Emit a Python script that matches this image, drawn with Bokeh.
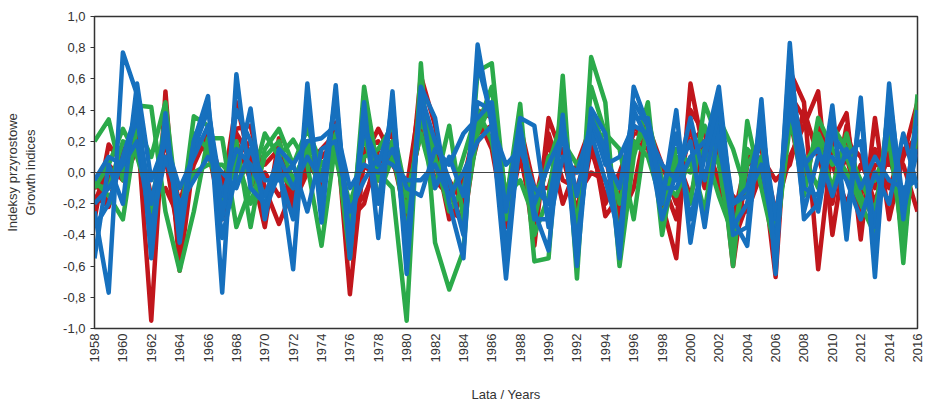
import numpy as np
from bokeh.plotting import figure
from bokeh.models import FixedTicker, CustomJSTickFormatter, Span, Range1d
from bokeh.embed import file_html
from bokeh.resources import INLINE

years = list(range(1958, 2017))

red_1 = [-0.30, 0.18, 0.05, 0.30, -0.95, 0.52, -0.63, 0.10, 0.28, -0.15,
         0.45, 0.05, -0.35, 0.22, -0.28, 0.10, -0.10, 0.32, -0.78, 0.10,
         0.28, 0.10, -0.30, 0.62, 0.30, -0.25, -0.30, 0.40, 0.35, -0.30,
         0.20, -0.47, 0.35, 0.10, -0.25, 0.25, -0.28, -0.15, 0.30, 0.20,
         -0.20, -0.55, 0.57, 0.10, 0.25, -0.60, 0.05, 0.10, -0.67, 0.65,
         0.45, -0.62, 0.20, 0.38, -0.43, 0.35, -0.30, 0.10, 0.45]
red_2 = [-0.15, -0.22, 0.15, 0.20, -0.30, 0.10, -0.45, 0.20, 0.20, -0.25,
         0.28, 0.30, -0.10, -0.33, -0.10, 0.05, 0.15, 0.25, -0.30, -0.20,
         0.15, 0.25, -0.20, 0.40, 0.20, -0.10, -0.35, 0.30, 0.20, -0.25,
         0.15, -0.20, 0.20, -0.20, 0.05, 0.30, 0.10, -0.30, -0.10, 0.35,
         -0.30, 0.05, 0.20, 0.28, 0.10, -0.30, 0.10, 0.15, -0.25, 0.10,
         0.30, 0.52, -0.40, 0.20, 0.10, -0.20, 0.15, 0.05, -0.25]
red_3 = [-0.05, -0.20, 0.10, 0.25, -0.15, -0.10, -0.30, 0.05, 0.25, -0.05,
         0.10, 0.20, 0.05, 0.15, -0.20, 0.00, 0.10, 0.20, -0.25, -0.15,
         0.05, 0.20, -0.15, 0.25, 0.15, -0.30, -0.15, 0.20, 0.30, -0.20,
         0.30, -0.10, -0.10, 0.25, -0.30, 0.15, -0.15, -0.05, 0.15, 0.30,
         0.05, -0.20, 0.30, -0.10, 0.15, -0.45, -0.20, 0.10, -0.05, 0.05,
         0.40, 0.10, -0.20, 0.30, -0.15, 0.15, -0.10, 0.15, 0.10]
red_4 = [-0.20, 0.05, -0.05, 0.15, -0.25, 0.20, -0.20, 0.15, 0.15, -0.30,
         0.20, -0.05, 0.00, -0.15, -0.05, 0.05, -0.05, 0.15, -0.40, 0.05,
         -0.05, 0.15, -0.25, 0.30, -0.05, -0.15, -0.05, 0.35, 0.15, -0.35,
         0.10, -0.30, 0.10, 0.15, -0.15, 0.00, -0.05, -0.25, 0.20, 0.15,
         -0.15, 0.10, -0.15, 0.20, -0.05, -0.15, -0.25, 0.00, -0.30, 0.35,
         -0.10, 0.30, 0.05, -0.20, 0.05, -0.10, 0.10, -0.20, 0.20]
red_5 = [-0.10, -0.05, 0.12, 0.22, -0.40, 0.30, -0.50, 0.20, 0.22, -0.10,
         0.25, 0.10, -0.25, 0.05, -0.15, 0.12, -0.02, 0.25, -0.55, 0.15,
         0.20, 0.05, -0.10, 0.50, 0.05, -0.05, -0.20, 0.25, 0.30, -0.15,
         0.25, -0.35, 0.25, -0.05, -0.10, 0.20, -0.20, 0.00, 0.25, 0.25,
         -0.05, -0.30, 0.40, 0.25, -0.10, -0.40, 0.10, 0.20, -0.50, 0.50,
         0.35, 0.15, -0.10, 0.10, -0.25, 0.05, 0.05, 0.10, 0.25]

green_1 = [0.20, 0.34, -0.05, 0.43, 0.42, -0.25, -0.63, -0.25, 0.22, 0.22,
           -0.35, -0.10, 0.25, 0.10, 0.21, 0.05, -0.47, 0.20, -0.55, 0.55,
           0.00, -0.10, -0.95, 0.70, -0.45, -0.75, -0.50, 0.65, 0.70, -0.20,
           0.44, -0.57, -0.55, 0.62, -0.68, 0.74, 0.45, -0.60, 0.10, 0.45,
           -0.40, 0.10, -0.20, 0.44, 0.20, -0.60, 0.33, -0.10, -0.50, 0.40,
           -0.15, 0.35, 0.15, 0.00, -0.20, -0.40, 0.47, -0.58, 0.50]
green_2 = [-0.05, -0.15, -0.30, 0.30, 0.10, 0.45, -0.35, 0.36, 0.30, -0.20,
           0.20, -0.35, 0.15, 0.28, 0.05, 0.28, 0.05, 0.15, -0.20, 0.10,
           0.15, 0.30, -0.15, 0.25, -0.10, 0.30, -0.30, 0.25, 0.45, -0.15,
           -0.05, -0.30, 0.10, 0.20, 0.05, 0.20, 0.25, 0.15, -0.30, 0.35,
           -0.05, -0.15, 0.10, -0.25, 0.35, 0.15, -0.15, 0.10, -0.45, 0.30,
           0.10, -0.10, 0.30, 0.15, -0.05, -0.25, 0.30, -0.35, 0.25]
green_3 = [-0.10, 0.05, 0.28, 0.10, -0.20, 0.25, -0.25, 0.00, 0.05, 0.05,
           -0.05, 0.05, -0.15, 0.00, -0.10, 0.20, 0.00, 0.10, -0.30, 0.25,
           -0.15, 0.10, -0.25, 0.35, 0.05, -0.20, 0.10, 0.40, 0.20, -0.30,
           0.25, -0.15, 0.05, 0.35, -0.35, 0.40, 0.15, -0.20, 0.20, 0.10,
           -0.20, 0.15, 0.05, 0.15, -0.15, -0.40, 0.05, 0.20, -0.35, 0.35,
           0.05, 0.20, -0.10, 0.25, -0.10, -0.05, 0.20, -0.45, 0.30]
green_4 = [-0.08, -0.10, 0.20, 0.15, -0.25, 0.35, -0.40, 0.25, 0.15, -0.25,
           0.10, -0.20, 0.10, 0.20, -0.05, 0.15, -0.15, 0.25, -0.40, 0.40,
           -0.05, 0.20, -0.40, 0.50, 0.10, -0.25, -0.10, 0.30, 0.55, -0.25,
           0.30, -0.40, -0.15, 0.45, -0.45, 0.55, 0.25, -0.45, 0.15, 0.30,
           -0.30, 0.05, 0.00, 0.30, 0.05, -0.50, 0.15, 0.05, -0.40, 0.45,
           0.00, 0.25, 0.05, 0.10, -0.15, -0.30, 0.40, -0.50, 0.40]

blue_1 = [-0.25, -0.77, 0.77, 0.50, -0.55, 0.38, -0.45, 0.20, 0.49, -0.77,
          0.63, -0.10, -0.20, 0.05, -0.62, 0.57, -0.32, 0.56, -0.55, 0.45,
          -0.42, 0.52, -0.65, 0.55, 0.35, -0.20, -0.55, 0.82, 0.30, -0.68,
          0.30, -0.25, -0.50, 0.37, -0.60, 0.41, 0.25, -0.55, 0.55, 0.30,
          -0.20, 0.40, -0.45, 0.15, 0.55, -0.30, -0.47, 0.47, -0.65, 0.83,
          -0.30, -0.20, 0.43, -0.43, 0.48, -0.67, 0.57, -0.30, 0.40]
blue_2 = [-0.55, 0.05, -0.20, 0.57, -0.05, 0.20, -0.10, 0.10, 0.30, -0.42,
          0.00, 0.41, -0.30, 0.15, 0.05, 0.20, 0.22, 0.30, -0.10, 0.05,
          0.00, 0.15, -0.10, -0.15, 0.15, 0.05, 0.25, 0.35, 0.45, -0.25,
          0.35, 0.30, -0.35, 0.10, 0.00, 0.30, 0.10, -0.10, 0.40, 0.20,
          -0.30, 0.00, 0.20, -0.35, 0.30, -0.20, -0.15, 0.05, -0.45, 0.55,
          -0.25, 0.10, 0.10, -0.05, -0.30, 0.00, -0.20, 0.25, -0.10]
blue_3 = [-0.05, 0.10, 0.05, 0.20, -0.35, 0.10, -0.20, -0.05, 0.10, 0.00,
          -0.10, 0.15, -0.05, -0.05, 0.05, -0.25, 0.15, 0.20, -0.25, -0.05,
          0.10, 0.05, -0.05, -0.05, 0.05, -0.15, 0.00, 0.20, 0.30, 0.05,
          0.15, -0.10, -0.20, 0.30, -0.15, 0.35, 0.05, 0.10, 0.30, 0.25,
          0.05, -0.05, 0.35, -0.05, 0.40, -0.20, -0.10, 0.30, -0.30, 0.40,
          0.05, 0.15, -0.15, 0.15, -0.10, 0.10, -0.05, -0.10, -0.05]
blue_4 = [-0.20, -0.10, 0.05, 0.35, -0.20, 0.25, -0.30, 0.15, 0.40, -0.15,
          0.15, 0.05, -0.15, 0.10, -0.10, 0.10, -0.05, 0.45, -0.45, 0.30,
          0.05, 0.35, -0.45, 0.45, -0.10, 0.10, -0.15, 0.45, 0.40, -0.50,
          0.20, -0.20, 0.05, 0.25, -0.45, 0.25, -0.05, -0.40, 0.35, 0.35,
          -0.10, -0.10, 0.10, 0.20, 0.20, -0.35, -0.20, 0.25, -0.50, 0.60,
          0.10, -0.25, 0.25, 0.10, 0.20, -0.35, 0.35, -0.25, 0.15]
blue_5 = [-0.35, -0.20, 0.10, 0.40, -0.45, 0.30, -0.35, 0.20, 0.45, -0.30,
          0.40, 0.20, -0.25, 0.00, -0.30, 0.40, -0.20, 0.50, -0.50, 0.35,
          -0.20, 0.45, -0.55, 0.50, 0.20, -0.05, -0.40, 0.70, 0.35, -0.55,
          0.25, -0.30, -0.30, 0.30, -0.50, 0.35, 0.15, -0.45, 0.45, 0.30,
          -0.15, 0.25, -0.30, 0.10, 0.45, -0.40, -0.35, 0.40, -0.60, 0.75,
          -0.10, -0.15, 0.35, -0.30, 0.40, -0.55, 0.50, -0.20, 0.30]

y_ticks = [-1.0, -0.8, -0.6, -0.4, -0.2, 0.0, 0.2, 0.4, 0.6, 0.8, 1.0]
x_ticks = list(range(1958, 2017, 2))

RED, GREEN, BLUE = "#C1161C", "#2BAA4A", "#1670BE"
groups = [(RED, [red_1, red_2, red_3, red_4, red_5]),
          (GREEN, [green_1, green_2, green_3, green_4]),
          (BLUE, [blue_1, blue_2, blue_3, blue_4, blue_5])]

p = figure(width=926, height=405, output_backend="svg", toolbar_location=None,
           x_range=Range1d(1958, 2016), y_range=Range1d(-1.0, 1.0))
p.min_border_left = 94
p.min_border_right = 9
p.min_border_top = 16
p.min_border_bottom = 76
p.background_fill_color = "white"
p.border_fill_color = "white"
p.outline_line_color = "#333333"
p.outline_line_width = 1.5
p.xgrid.visible = False
p.ygrid.visible = False

p.add_layout(Span(location=0, dimension="width", line_color="#444444", line_width=1))

for color, series in groups:
    for s in series:
        assert len(s) == len(years)
        p.line(years, s, line_color=color, line_width=4.5, line_join="round")

font = "Liberation Sans"
p.yaxis.ticker = FixedTicker(ticks=y_ticks)
p.yaxis.formatter = CustomJSTickFormatter(code="return tick.toFixed(1).replace('.', ',');")
p.xaxis.ticker = FixedTicker(ticks=x_ticks)
p.xaxis.major_label_orientation = np.pi / 2
for ax in (p.xaxis[0], p.yaxis[0]):
    ax.major_label_text_font = font
    ax.major_label_text_font_size = "13px"
    ax.major_label_text_color = "#333333"
    ax.axis_label_text_font = font
    ax.axis_label_text_font_size = "13px"
    ax.axis_label_text_font_style = "normal"
    ax.axis_label_text_color = "#333333"
    ax.axis_line_color = "#333333"
    ax.major_tick_line_color = "#333333"
    ax.minor_tick_line_color = None
    ax.major_tick_in = 0
    ax.major_tick_out = 4

p.xaxis.major_tick_out = 0
p.xaxis.axis_label = "Lata / Years"
p.xaxis.axis_label_standoff = 22
p.yaxis.axis_label = "Indeksy przyrostowe\nGrowth indices"
p.yaxis.axis_label_standoff = 22

open("out.html", "w").write(file_html(p, INLINE))
